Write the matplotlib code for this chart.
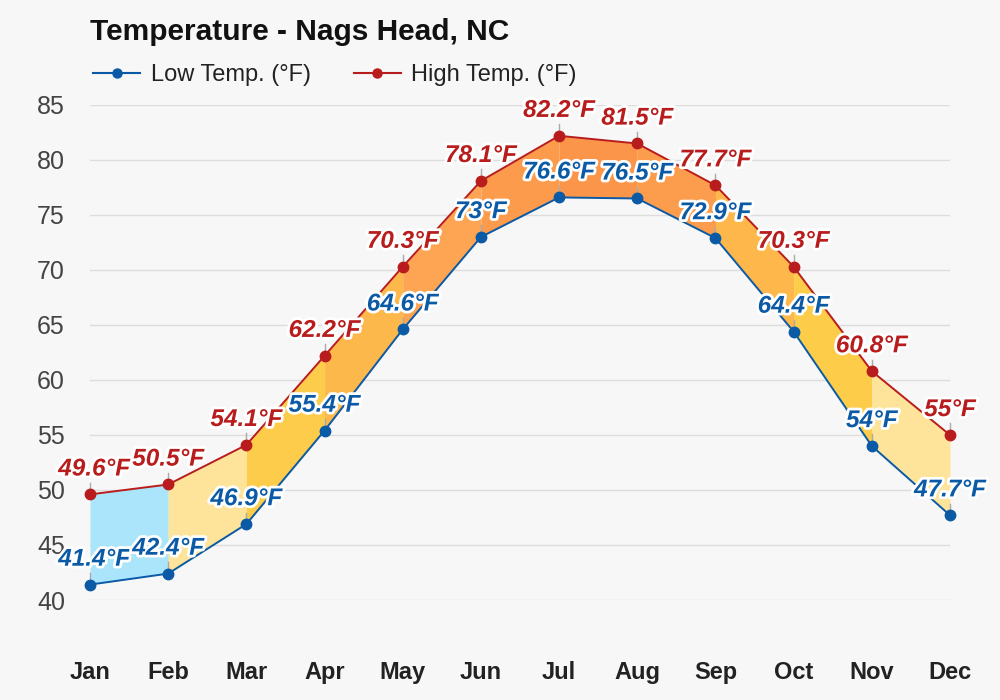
import numpy as np
import matplotlib.pyplot as plt
import matplotlib.patheffects as pe

months = ['Jan', 'Feb', 'Mar', 'Apr', 'May', 'Jun', 'Jul', 'Aug', 'Sep', 'Oct', 'Nov', 'Dec']
low_temp = [41.4, 42.4, 46.9, 55.4, 64.6, 73, 76.6, 76.5, 72.9, 64.4, 54, 47.7]
high_temp = [49.6, 50.5, 54.1, 62.2, 70.3, 78.1, 82.2, 81.5, 77.7, 70.3, 60.8, 55]
low_labels = ['41.4°F', '42.4°F', '46.9°F', '55.4°F', '64.6°F', '73°F',
              '76.6°F', '76.5°F', '72.9°F', '64.4°F', '54°F', '47.7°F']
high_labels = ['49.6°F', '50.5°F', '54.1°F', '62.2°F', '70.3°F', '78.1°F',
               '82.2°F', '81.5°F', '77.7°F', '70.3°F', '60.8°F', '55°F']
# colour of the band between month i and month i+1
band_colors = ['#aae5fb', '#fde49a', '#fdcc4a', '#fdb84c', '#fda552', '#fc9b4c',
               '#fb954a', '#fc9c4d', '#fdb74b', '#fdcc48', '#fde49a']

LOW_C = '#0b5aa6'
HIGH_C = '#b81c1c'
BG = '#f7f7f7'

plt.rcParams['font.family'] = ['Liberation Sans', 'DejaVu Sans']

fig = plt.figure(figsize=(10, 7), dpi=100, facecolor=BG)
ax = fig.add_axes([0.09, 1 - 600 / 700, 0.86, 495 / 700])
ax.set_facecolor(BG)

x = np.arange(len(months))

for i in range(len(months) - 1):
    ax.fill_between(x[i:i + 2], low_temp[i:i + 2], high_temp[i:i + 2],
                    color=band_colors[i], lw=0, zorder=1)

ax.plot(x, low_temp, color=LOW_C, lw=1.4, marker='o', ms=7.5, zorder=4, clip_on=False)
ax.plot(x, high_temp, color=HIGH_C, lw=1.4, marker='o', ms=7.5, zorder=4, clip_on=False)

outline = [pe.withStroke(linewidth=4, foreground='white')]
for xi, lo, hi, ll, hl in zip(x, low_temp, high_temp, low_labels, high_labels):
    for y, lab, c in ((lo, ll, LOW_C), (hi, hl, HIGH_C)):
        ax.plot([xi, xi], [y, y + 1.05], color='#aaaaaa', lw=1, zorder=3, clip_on=False)
        # first label is pushed right a little so it stays clear of the axis text
        dx = 3 if xi == 0 else 0
        ax.annotate(lab, (xi, y), xytext=(dx, 10), textcoords='offset points',
                    ha='center', va='bottom', fontsize=17.5, fontweight='bold',
                    fontstyle='italic', color=c, path_effects=outline, zorder=5,
                    annotation_clip=False)

ax.set_xlim(0, 11)
ax.set_ylim(40, 85)
ax.set_yticks(np.arange(40, 86, 5))
ax.set_xticks(x)
ax.set_xticklabels(months, fontsize=17, fontweight='bold', color='#222222')
ax.tick_params(axis='x', length=0, pad=44)
ax.tick_params(axis='y', length=0, pad=18, labelsize=18, labelcolor='#444444')
ax.grid(axis='y', color='#dddddd', lw=1)
ax.set_axisbelow(True)
for s in ax.spines.values():
    s.set_visible(False)

fig.text(0.09, 1 - 32 / 700, 'Temperature - Nags Head, NC', fontsize=21.5,
         fontweight='bold', va='center', ha='left', color='#111111')

handles = [
    plt.Line2D([], [], color=LOW_C, lw=1.5, marker='o', ms=6.5),
    plt.Line2D([], [], color=HIGH_C, lw=1.5, marker='o', ms=6.5),
]
fig.legend(handles, ['Low Temp. (°F)', 'High Temp. (°F)'], loc='center left',
           bbox_to_anchor=(0.072, 1 - 75 / 700), ncol=2, frameon=False,
           fontsize=17, handlelength=2.0, columnspacing=1.8, handletextpad=0.45,
           labelcolor='#222222')

fig.savefig('out.png', dpi=100, facecolor=BG)
